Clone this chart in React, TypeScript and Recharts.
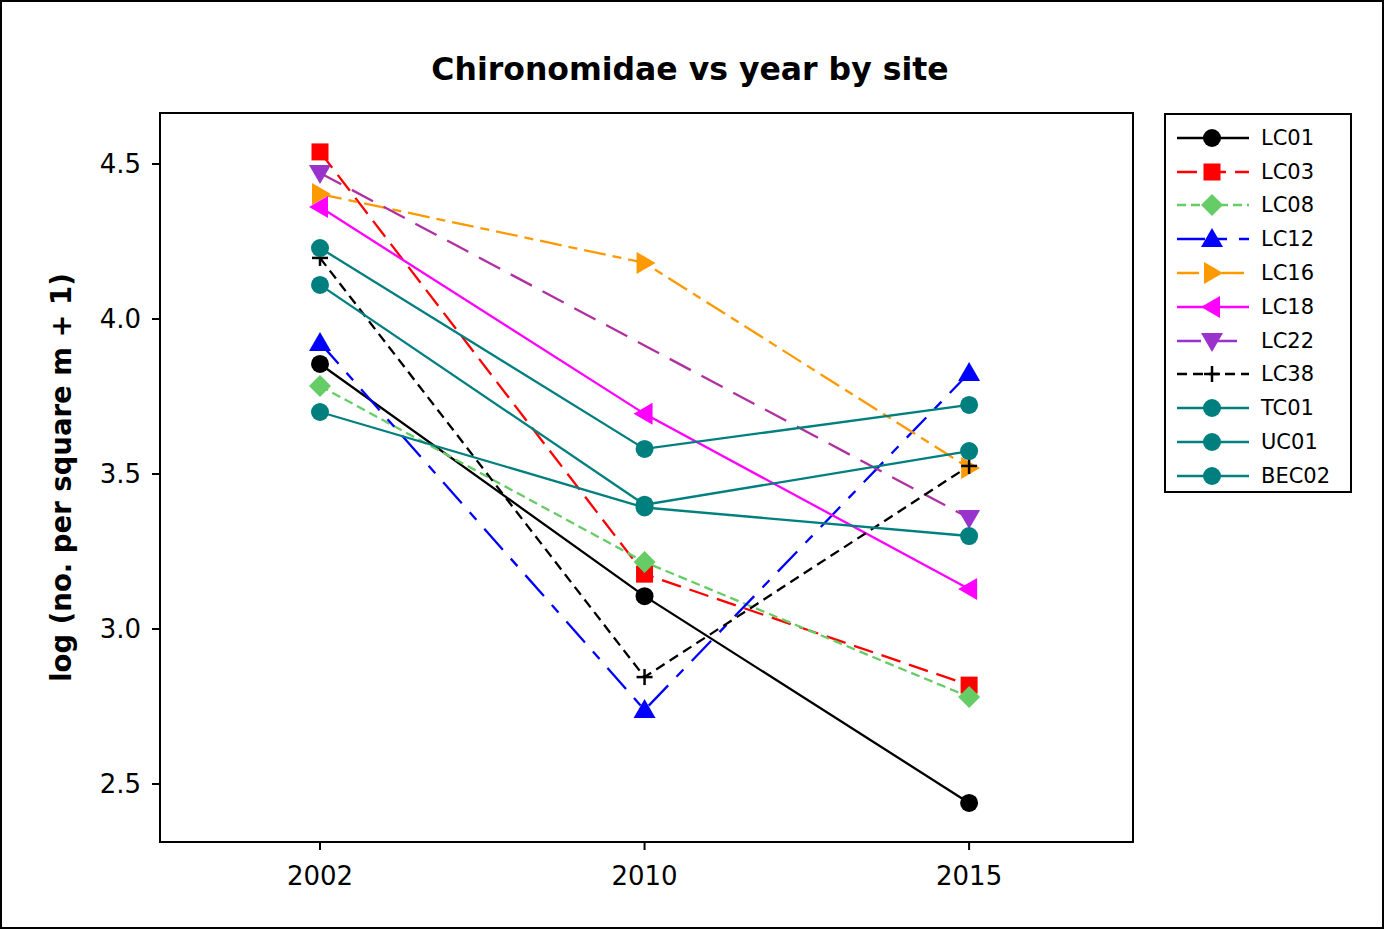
import React from 'react'
import { LineChart, Line, XAxis, YAxis, Legend, ReferenceArea } from 'recharts'

// categories and tick labels
const years = ['2002', '2010', '2015']
const yTicks = [2.5, 3.0, 3.5, 4.0, 4.5]

// log (no. per square m + 1)
const lc01 = [3.855, 3.106, 2.439]
const lc03 = [4.539, 3.177, 2.819]
const lc08 = [3.784, 3.216, 2.781]
const lc12 = [3.923, 2.739, 3.826]
const lc16 = [4.403, 4.181, 3.519]
const lc18 = [4.361, 3.694, 3.129]
const lc22 = [4.471, null, 3.358]
const lc38 = [4.197, 2.845, 3.526]
const tc01 = [4.229, 3.581, 3.723]
const uc01 = [4.11, 3.401, 3.574]
const bec02 = [3.7, 3.392, 3.3]

const FONT = '"DejaVu Sans", Verdana, sans-serif'
const TEAL = '#007F7F'
const Y_MIN = 2.313
const Y_MAX = 4.6645
const X_MIN = -0.493
const X_MAX = 2.505

type Shape = 'circle' | 'square' | 'diamond' | 'up' | 'right' | 'left' | 'down' | 'plus'

const series: Array<{ name: string; values: Array<number | null>; color: string; fill: string; legendStroke?: string; dash?: string; shape: Shape }> = [
  { name: 'LC01', values: lc01, color: '#000000', fill: '#000000', shape: 'circle' },
  { name: 'LC03', values: lc03, color: '#FF0000', fill: '#FF0000', dash: '20 9', shape: 'square' },
  { name: 'LC08', values: lc08, color: '#66CC66', fill: '#66CC66', dash: '9 5', shape: 'diamond' },
  { name: 'LC12', values: lc12, color: '#0000FF', fill: '#0000FF', dash: '28 12 10 12', shape: 'up' },
  { name: 'LC16', values: lc16, color: '#FF9900', fill: '#FF9900', dash: '22 7 9 7', shape: 'right' },
  { name: 'LC18', values: lc18, color: '#FF00FF', fill: '#FF00FF', shape: 'left' },
  { name: 'LC22', values: lc22, color: '#B0309F', fill: '#9933CC', legendStroke: '#9933CC', dash: '24 12', shape: 'down' },
  { name: 'LC38', values: lc38, color: '#000000', fill: '#000000', dash: '10 6', shape: 'plus' },
  { name: 'TC01', values: tc01, color: TEAL, fill: TEAL, shape: 'circle' },
  { name: 'UC01', values: uc01, color: TEAL, fill: TEAL, shape: 'circle' },
  { name: 'BEC02', values: bec02, color: TEAL, fill: TEAL, shape: 'circle' }
]

const data = years.map((year, i) => {
  const row: Record<string, number | string | null> = { x: i, year }
  series.forEach(s => { row[s.name] = s.values[i] })
  return row
})

const Marker = ({ cx, cy, shape, fill }: { cx: number; cy: number; shape: Shape; fill: string }) => {
  if (cx == null || cy == null || isNaN(cx) || isNaN(cy)) return null
  switch (shape) {
    case 'circle':
      return <circle cx={cx} cy={cy} r={9} fill={fill} />
    case 'square':
      return <rect x={cx - 8.5} y={cy - 8.5} width={17} height={17} fill={fill} />
    case 'diamond':
      return <polygon points={`${cx},${cy - 11} ${cx + 11},${cy} ${cx},${cy + 11} ${cx - 11},${cy}`} fill={fill} />
    case 'up':
      return <polygon points={`${cx},${cy - 11} ${cx + 11},${cy + 8} ${cx - 11},${cy + 8}`} fill={fill} />
    case 'down':
      return <polygon points={`${cx},${cy + 11} ${cx + 11},${cy - 8} ${cx - 11},${cy - 8}`} fill={fill} />
    case 'right':
      return <polygon points={`${cx + 11},${cy} ${cx - 8},${cy - 11} ${cx - 8},${cy + 11}`} fill={fill} />
    case 'left':
      return <polygon points={`${cx - 11},${cy} ${cx + 8},${cy - 11} ${cx + 8},${cy + 11}`} fill={fill} />
    case 'plus':
      return (
        <g stroke={fill} strokeWidth={2.5}>
          <line x1={cx - 8} y1={cy} x2={cx + 8} y2={cy} />
          <line x1={cx} y1={cy - 8} x2={cx} y2={cy + 8} />
        </g>
      )
  }
  return null
}

// legend drawn like the original: line sample with marker in the middle, kept in series order
const LegendBox = ({ payload }: any) => {
  const names = (payload || []).map((e: any) => e.value)
  const items = series.filter(s => names.includes(s.name))
  return (
    <div style={{ border: '2px solid #000', boxSizing: 'border-box', width: 188, height: 380, paddingTop: 6, background: '#fff' }}>
      {items.map(s => (
        <div key={s.name} style={{ display: 'flex', alignItems: 'center', height: 33.8 }}>
          <svg width={92} height={30} style={{ marginLeft: 9 }}>
            <line x1={2} y1={15} x2={74} y2={15} stroke={s.legendStroke || s.color} strokeWidth={2.3} strokeDasharray={s.dash} />
            <Marker cx={37} cy={15} shape={s.shape} fill={s.fill} />
          </svg>
          <span style={{ fontFamily: FONT, fontSize: 21, color: '#000', marginLeft: -6 }}>{s.name}</span>
        </div>
      ))}
    </div>
  )
}

const YLabel = ({ viewBox }: any) => {
  const cy = viewBox.y + viewBox.height / 2
  return (
    <text x={61} y={cy} transform={`rotate(-90, 61, ${cy})`} textAnchor="middle" dominantBaseline="central"
      style={{ fontFamily: FONT, fontSize: 27.5, fontWeight: 'bold', fill: '#000' }}>
      log (no. per square m + 1)
    </text>
  )
}

export default function App() {
  return (
    <div style={{ position: 'absolute', left: 0, top: 0, width: 1384, height: 929, boxSizing: 'border-box', border: '2px solid #000', background: '#fff' }}>
      <div style={{ position: 'absolute', left: -4, top: 49, width: 1384, textAlign: 'center', fontFamily: FONT, fontSize: 31.5, fontWeight: 'bold', color: '#000' }}>
        Chironomidae vs year by site
      </div>
      <div style={{ position: 'absolute', left: -2, top: -2 }}>
        <LineChart width={1384} height={929} data={data} margin={{ top: 113, right: 251, left: 50, bottom: 47 }}>
          <XAxis
            dataKey="x"
            type="number"
            domain={[X_MIN, X_MAX]}
            ticks={[0, 1, 2]}
            tickFormatter={(i: number) => years[i]}
            stroke="#000"
            strokeWidth={2}
            tickSize={8}
            tickMargin={17}
            height={40}
            tick={{ fill: '#000', fontSize: 26, fontFamily: FONT }}
          />
          <YAxis
            type="number"
            domain={[Y_MIN, Y_MAX]}
            ticks={yTicks}
            tickFormatter={(v: number) => v.toFixed(1)}
            stroke="#000"
            strokeWidth={2}
            tickSize={8}
            tickMargin={11}
            width={110}
            tick={{ fill: '#000', fontSize: 26, fontFamily: FONT }}
            label={<YLabel />}
          />
          {/* frame around the plot area */}
          <ReferenceArea x1={X_MIN} x2={X_MAX} y1={Y_MIN} y2={Y_MAX} fill="none" stroke="#000" strokeWidth={2} ifOverflow="visible" />
          <Legend
            layout="vertical"
            align="center"
            verticalAlign="middle"
            content={<LegendBox />}
            wrapperStyle={{ left: 1164, top: 113, width: 188, height: 380 }}
          />
          {series.map(s => (
            <Line
              key={s.name}
              dataKey={s.name}
              name={s.name}
              type="linear"
              stroke={s.color}
              strokeWidth={2.3}
              strokeDasharray={s.dash}
              connectNulls
              isAnimationActive={false}
              dot={(p: any) => <Marker key={`${s.name}-${p.index}`} cx={p.cx} cy={p.cy} shape={s.shape} fill={s.fill} />}
              activeDot={false}
            />
          ))}
        </LineChart>
      </div>
    </div>
  )
}
